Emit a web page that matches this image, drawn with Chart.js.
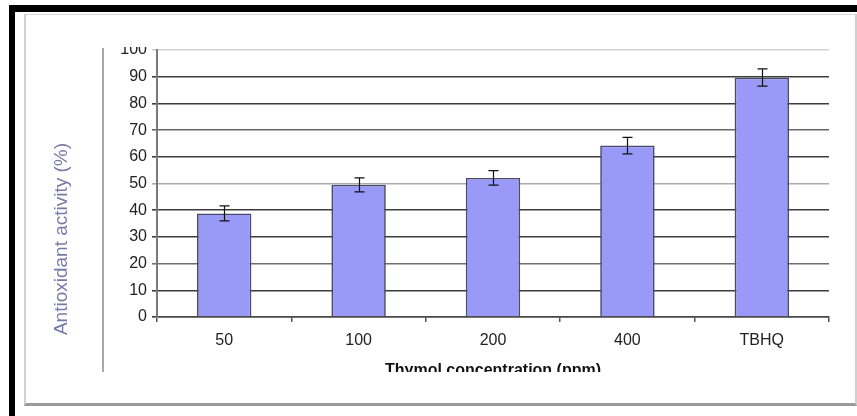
<!DOCTYPE html>
<html>
<head>
<meta charset="utf-8">
<title>Thymol antioxidant activity</title>
<script src="https://cdn.jsdelivr.net/npm/chart.js@4.4.1/dist/chart.umd.min.js"></script>
<style>
  html, body { margin: 0; padding: 0; background: #fff; }
  body { width: 857px; height: 416px; position: relative; overflow: hidden; }
  .bar-top { position: absolute; left: 9px; top: 5px; width: 848px; height: 7px; background: #000; }
  .bar-left { position: absolute; left: 9px; top: 5px; width: 6px; height: 411px; background: #000; }
  .frame {
    position: absolute; left: 24px; top: 14px; width: 829px; height: 388px;
    border-top: 1px solid #d6d6d6; border-left: 2px solid #d0d0d0;
    border-right: 2px solid #cfcfcf; border-bottom: 3px solid #9a9a9a;
    background: #fff;
  }
  #chart { position: absolute; left: 0; top: 0; }
</style>
</head>
<body>
<div class="bar-top"></div>
<div class="bar-left"></div>
<div class="frame"></div>
<canvas id="chart" width="857" height="372"></canvas>
<script>
// Antioxidant activity of thymol at several concentrations, with TBHQ as reference
const categories = ['50', '100', '200', '400', 'TBHQ'];
const activity = [38.8, 49.5, 52.1, 64.2, 89.7];
const activityError = [2.8, 2.6, 2.7, 3.1, 3.2];
const yTicks = [0, 10, 20, 30, 40, 50, 60, 70, 80, 90, 100];
const yTitle = 'Antioxidant activity (%)';
const xTitle = 'Thymol concentration (ppm)';

// gridline shade per tick value
const gridShade = { 100: '#d2d2d2', 50: '#ababab', 70: '#666666', 20: '#6e6e6e' };

// the embedded figure is cut off just above the top tick label
const cropTop = {
  id: 'cropTop',
  beforeDraw(chart) {
    const { ctx, width, height } = chart;
    ctx.save();
    ctx.beginPath();
    ctx.rect(0, 47, width, height - 47);
    ctx.clip();
  },
  afterDraw(chart) {
    chart.ctx.restore();
  }
};

const errorBars = {
  id: 'errorBars',
  afterDatasetsDraw(chart) {
    const { ctx, scales: { y } } = chart;
    const meta = chart.getDatasetMeta(0);
    ctx.save();
    ctx.strokeStyle = '#111';
    ctx.lineWidth = 1.2;
    meta.data.forEach((bar, i) => {
      const v = activity[i], e = activityError[i];
      const top = y.getPixelForValue(v + e);
      const bot = y.getPixelForValue(v - e);
      const x = Math.round(bar.x) + 0.5;
      ctx.beginPath();
      ctx.moveTo(x, top); ctx.lineTo(x, bot);
      ctx.moveTo(x - 5, top); ctx.lineTo(x + 5, top);
      ctx.moveTo(x - 5, bot); ctx.lineTo(x + 5, bot);
      ctx.stroke();
    });
    ctx.restore();
  }
};

// vertical rule and rotated axis title left of the value axis
const sideTitle = {
  id: 'sideTitle',
  afterDraw(chart) {
    const { ctx } = chart;
    ctx.save();
    ctx.fillStyle = '#a9a9a9';
    ctx.fillRect(102, 48, 2, 324);
    ctx.translate(62, 239);
    ctx.rotate(-Math.PI / 2);
    ctx.font = '19px "Liberation Sans", Arial, sans-serif';
    ctx.fillStyle = 'rgba(30, 40, 110, 0.62)';
    ctx.textAlign = 'center';
    ctx.textBaseline = 'middle';
    ctx.fillText(yTitle, 0, 0);
    ctx.restore();
  }
};

new Chart(document.getElementById('chart'), {
  type: 'bar',
  data: {
    labels: categories,
    datasets: [{
      data: activity,
      backgroundColor: '#9999f7',
      borderColor: '#4a4a6a',
      borderWidth: 1.7,
      barPercentage: 0.405,
      categoryPercentage: 1
    }]
  },
  options: {
    responsive: false,
    animation: false,
    devicePixelRatio: 1,
    layout: { padding: { left: 24, right: 28, top: 50, bottom: 0 } },
    plugins: { legend: { display: false }, tooltip: { enabled: false } },
    scales: {
      x: {
        afterFit(scale) { scale.height = 55; },
        grid: { drawOnChartArea: false, drawTicks: true, tickLength: 5, color: '#555', lineWidth: 1.5 },
        border: { display: true, color: '#4a4a4a', width: 1.5 },
        ticks: { padding: 9, color: '#222', font: { family: '"Liberation Sans", Arial, sans-serif', size: 16 } },
        title: {
          display: true, text: xTitle, color: '#111',
          font: { family: '"Liberation Sans", Arial, sans-serif', size: 16, weight: 'bold' },
          padding: { top: 0, bottom: -8 }
        }
      },
      y: {
        min: 0, max: 100,
        afterFit(scale) { scale.width = 133; },
        afterBuildTicks(scale) { scale.ticks = yTicks.map(v => ({ value: v })); },
        grid: {
          color: c => gridShade[c.tick && c.tick.value] || '#3c3c3c',
          lineWidth: 1.6, tickLength: 5
        },
        border: { display: true, color: '#7a7a7a', width: 2 },
        ticks: { padding: 5, color: '#222', font: { family: '"Liberation Sans", Arial, sans-serif', size: 16 } }
      }
    }
  },
  plugins: [cropTop, errorBars, sideTitle]
});
</script>
</body>
</html>
